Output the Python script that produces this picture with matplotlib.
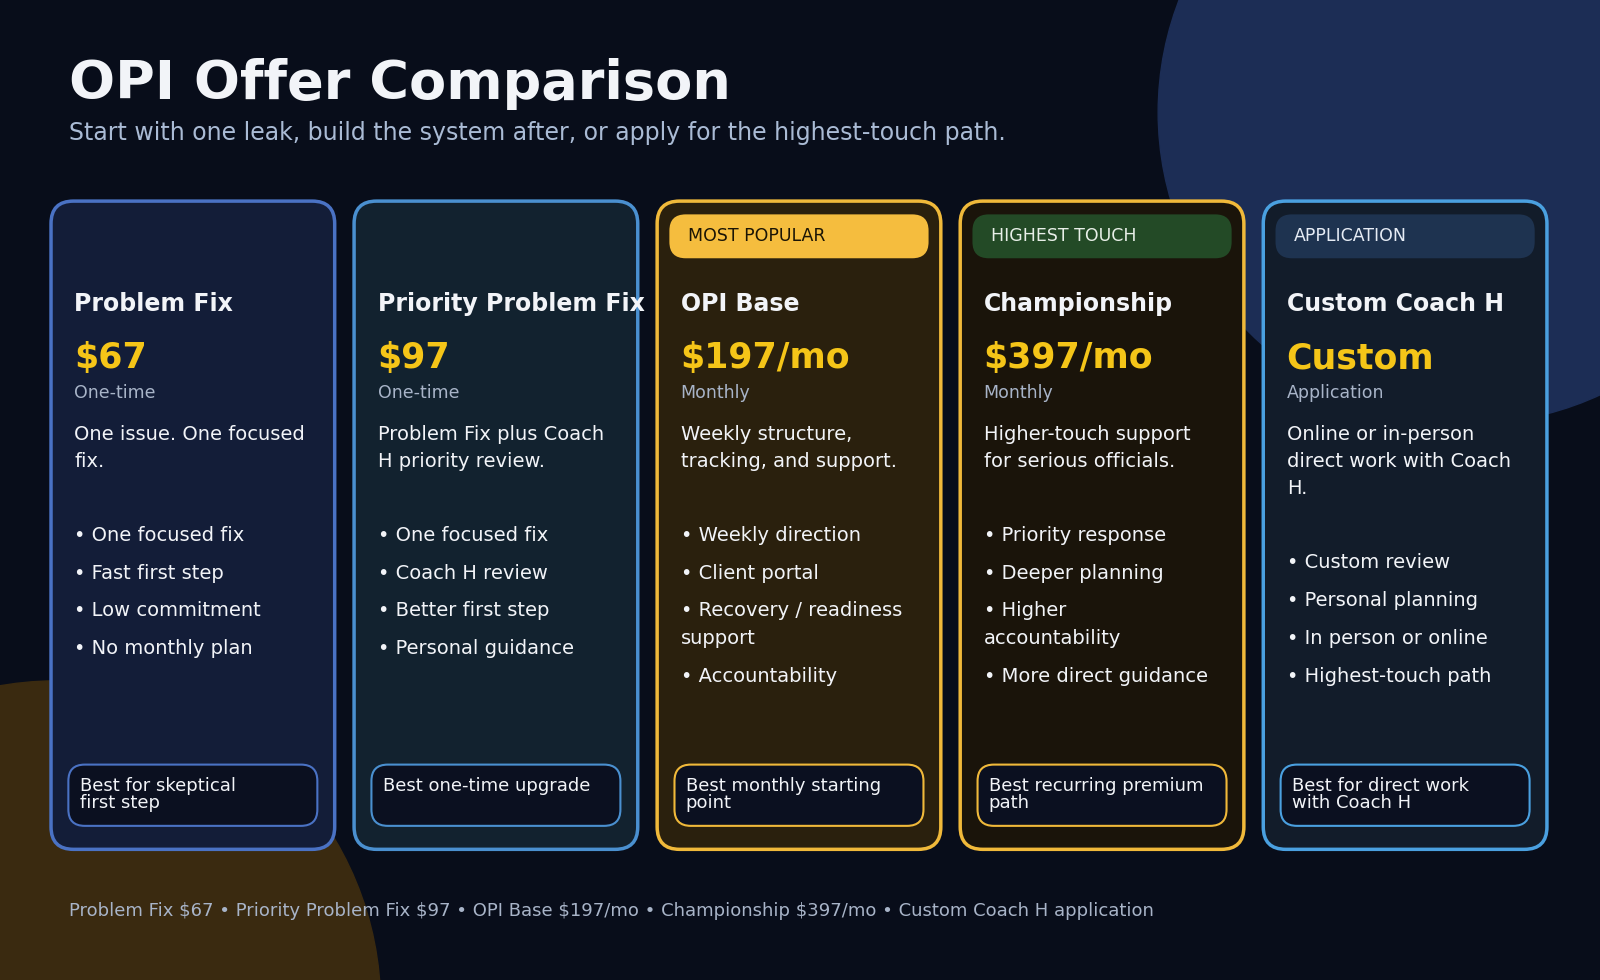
import matplotlib
matplotlib.use("Agg")
import matplotlib.pyplot as plt
from matplotlib.patches import FancyBboxPatch, Circle

# ---- data ----
TITLE = "OPI Offer Comparison"
SUBTITLE = "Start with one leak, build the system after, or apply for the highest-touch path."
names = ["Problem Fix", "Priority Problem Fix", "OPI Base", "Championship", "Custom Coach H"]
prices = ["$67", "$97", "$197/mo", "$397/mo", "Custom"]
billing = ["One-time", "One-time", "Monthly", "Monthly", "Application"]
badges = [None, None, "MOST POPULAR", "HIGHEST TOUCH", "APPLICATION"]
descs = [
    "One issue. One focused\nfix.",
    "Problem Fix plus Coach\nH priority review.",
    "Weekly structure,\ntracking, and support.",
    "Higher-touch support\nfor serious officials.",
    "Online or in-person\ndirect work with Coach\nH.",
]
bullets = [
    ["One focused fix", "Fast first step", "Low commitment", "No monthly plan"],
    ["One focused fix", "Coach H review", "Better first step", "Personal guidance"],
    ["Weekly direction", "Client portal", "Recovery / readiness\nsupport", "Accountability"],
    ["Priority response", "Deeper planning", "Higher\naccountability", "More direct guidance"],
    ["Custom review", "Personal planning", "In person or online", "Highest-touch path"],
]
best_for = [
    "Best for skeptical\nfirst step",
    "Best one-time upgrade",
    "Best monthly starting\npoint",
    "Best recurring premium\npath",
    "Best for direct work\nwith Coach H",
]
FOOTER = ("Problem Fix $67 • Priority Problem Fix $97 • OPI Base $197/mo • "
          "Championship $397/mo • Custom Coach H application")

# ---- styles ----
BG = "#080d1a"
card_fill = ["#131d38", "#12222f", "#2a200d", "#1a140a", "#121c2a"]
card_edge = ["#4a72c4", "#4a90d0", "#f0b93a", "#f0b93a", "#4aa0e0"]
badge_fill = [None, None, "#f5bd3e", "#234a26", "#1e3350"]
badge_text = [None, None, "#1a1405", "#e8efe8", "#e6ecf5"]
WHITE = "#f2f4f8"
GOLD = "#f5c518"
MUTED = "#a8b4c8"

W, H = 1568, 960
fig = plt.figure(figsize=(16, 9.8), dpi=100, facecolor=BG)
ax = fig.add_axes([0, 0, 1, 1])
ax.set_xlim(0, W)
ax.set_ylim(H, 0)
ax.axis("off")
ax.set_facecolor(BG)

ax.add_patch(Circle((1440, 110), 305, color="#1c2d55", zorder=0))
ax.add_patch(Circle((55, 985), 318, color="#3a2a10", zorder=0))

ax.text(68, 82, TITLE, color=WHITE, fontsize=39, fontweight="bold", va="center")
ax.text(68, 130, SUBTITLE, color="#aabbd5", fontsize=17, va="center")

x0, step, cw = 50, 297, 278
for i in range(5):
    x = x0 + step * i
    ax.add_patch(FancyBboxPatch((x, 197), cw, 635, boxstyle="round,pad=0,rounding_size=22",
                                fc=card_fill[i], ec=card_edge[i], lw=2.5, zorder=1))
    if badges[i]:
        ax.add_patch(FancyBboxPatch((x + 12, 210), cw - 24, 43,
                                    boxstyle="round,pad=0,rounding_size=16",
                                    fc=badge_fill[i], ec="none", zorder=2))
        ax.text(x + 30, 231, badges[i], color=badge_text[i], fontsize=12.5, va="center", zorder=3)
    tx = x + 23
    ax.text(tx, 298, names[i], color=WHITE, fontsize=17, fontweight="bold", va="center", zorder=3)
    ax.text(tx, 351, prices[i], color=GOLD, fontsize=25, fontweight="bold", va="center", zorder=3)
    ax.text(tx, 385, billing[i], color=MUTED, fontsize=12.5, va="center", zorder=3)
    ax.text(tx, 416, descs[i], color=WHITE, fontsize=14, va="top", linespacing=1.55, zorder=3)
    n = descs[i].count("\n")
    y = 427 + 27 * n + 72
    for b in bullets[i]:
        ax.text(tx, y - 11, "• " + b, color=WHITE, fontsize=14, va="top", linespacing=1.55, zorder=3)
        y += 37 + 27 * b.count("\n")
    ax.add_patch(FancyBboxPatch((x + 17, 749), 244, 60, boxstyle="round,pad=0,rounding_size=16",
                                fc="#0b1020", ec=card_edge[i], lw=1.5, zorder=2))
    ax.text(x + 28, 761, best_for[i], color=WHITE, fontsize=13, va="top", linespacing=0.95, zorder=3)

ax.text(68, 892, FOOTER, color=MUTED, fontsize=13, va="center", parse_math=False)

fig.savefig("out.png", dpi=100, facecolor=BG)
